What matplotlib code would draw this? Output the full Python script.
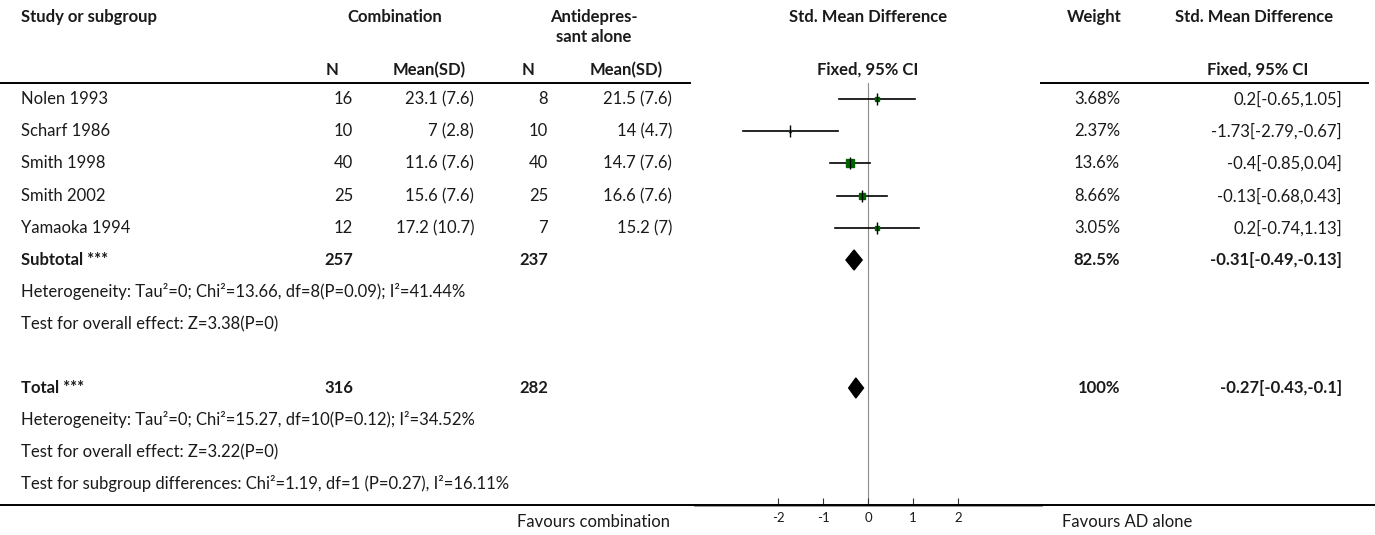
import matplotlib.pyplot as plt
from matplotlib.lines import Line2D

# data
studies   = ["Nolen 1993", "Scharf 1986", "Smith 1998", "Smith 2002", "Yamaoka 1994"]
n_comb    = [16, 10, 40, 25, 12]
mean_comb = [23.1, 7, 11.6, 15.6, 17.2]
sd_comb   = [7.6, 2.8, 7.6, 7.6, 10.7]
n_ad      = [8, 10, 40, 25, 7]
mean_ad   = [21.5, 14, 14.7, 16.6, 15.2]
sd_ad     = [7.6, 4.7, 7.6, 7.6, 7]
weights   = [3.68, 2.37, 13.6, 8.66, 3.05]
smd       = [0.2, -1.73, -0.4, -0.13, 0.2]
ci_lo     = [-0.65, -2.79, -0.85, -0.68, -0.74]
ci_hi     = [1.05, -0.67, 0.04, 0.43, 1.13]

pooled_labels = ["Subtotal ***", "Total ***"]
pooled_n_comb = [257, 316]
pooled_n_ad   = [237, 282]
pooled_w      = [82.5, 100]
pooled_smd    = [-0.31, -0.27]
pooled_lo     = [-0.49, -0.43]
pooled_hi     = [-0.13, -0.1]

sub_notes = ["Heterogeneity: Tau²=0; Chi²=13.66, df=8(P=0.09); I²=41.44%",
             "Test for overall effect: Z=3.38(P=0)"]
tot_notes = ["Heterogeneity: Tau²=0; Chi²=15.27, df=10(P=0.12); I²=34.52%",
             "Test for overall effect: Z=3.22(P=0)",
             "Test for subgroup differences: Chi²=1.19, df=1 (P=0.27), I²=16.11%"]

ticks = [-2, -1, 0, 1, 2]

# layout (pixels)
W, H = 1375, 535
plt.rcParams['font.family'] = ['Lato', 'DejaVu Sans']
FS = 12
TXT = "#1a1a1a"

fig = plt.figure(figsize=(W / 100, H / 100), dpi=100)

def fx(x):
    return x / W

def fy(y):
    return 1 - y / H

def put(x, y, s, ha="left", bold=False, size=FS):
    fig.text(fx(x), fy(y), s, ha=ha, va="center", fontsize=size,
             fontweight="bold" if bold else "normal", color=TXT)

# column anchors
X_STUDY = 21
X_N1, X_N1H = 353, 332
X_M1, X_M1H = 474, 429
X_N2, X_N2H = 548, 528
X_M2, X_M2H = 672, 626
X_W, X_WH = 1120, 1094
X_CI, X_CIH = 1342, 1254
AX_L, AX_R = 695, 1041
X_ZERO = (AX_L + AX_R) / 2
Y_TOP, Y_BOT = 83, 505

# headers
put(X_STUDY, 17, "Study or subgroup", bold=True)
put(395, 17, "Combination", ha="center", bold=True)
put(594, 17, "Antidepres-", ha="center", bold=True)
put(594, 37, "sant alone", ha="center", bold=True)
put(X_ZERO, 17, "Std. Mean Difference", ha="center", bold=True)
put(X_WH, 17, "Weight", ha="center", bold=True)
put(X_CIH, 17, "Std. Mean Difference", ha="center", bold=True)
put(X_N1H, 70, "N", ha="center", bold=True)
put(X_M1H, 70, "Mean(SD)", ha="center", bold=True)
put(X_N2H, 70, "N", ha="center", bold=True)
put(X_M2H, 70, "Mean(SD)", ha="center", bold=True)
put(X_ZERO, 70, "Fixed, 95% CI", ha="center", bold=True)
put(1308, 70, "Fixed, 95% CI", ha="right", bold=True)

# horizontal rules
for x0, x1 in [(0, 690), (AX_R, 1368)]:
    fig.add_artist(Line2D([fx(x0), fx(x1)], [fy(Y_TOP), fy(Y_TOP)],
                          color="black", lw=1.4))
fig.add_artist(Line2D([0, 1], [fy(Y_BOT), fy(Y_BOT)], color="black", lw=1.4))

# forest axes, y in pixel rows
ax = fig.add_axes([fx(AX_L), fy(Y_BOT), fx(AX_R) - fx(AX_L), (Y_BOT - Y_TOP) / H])
ax.set_xlim(-3.85, 3.85)
ax.set_ylim(Y_BOT, Y_TOP)
ax.patch.set_alpha(0)
for side in ["top", "left", "right"]:
    ax.spines[side].set_visible(False)
ax.spines["bottom"].set_color("#8c8c8c")
ax.spines["bottom"].set_linewidth(2)
ax.set_yticks([])
ax.set_xticks(ticks)
ax.set_xticklabels([str(t) for t in ticks])
ax.tick_params(axis="x", direction="in", length=5, width=0.8, color="#333333",
               labelsize=9.5, pad=5, labelcolor=TXT)
ax.axvline(0, color="#8c8c8c", lw=0.8, zorder=1)

# study rows
row_y = [99, 131, 163, 196, 228]
for i, y in enumerate(row_y):
    put(X_STUDY, y, studies[i])
    put(X_N1, y, str(n_comb[i]), ha="right")
    put(X_M1, y, f"{mean_comb[i]:g} ({sd_comb[i]:g})", ha="right")
    put(X_N2, y, str(n_ad[i]), ha="right")
    put(X_M2, y, f"{mean_ad[i]:g} ({sd_ad[i]:g})", ha="right")
    put(X_W, y, f"{weights[i]:g}%", ha="right")
    put(X_CI, y, f"{smd[i]:g}[{ci_lo[i]:g},{ci_hi[i]:g}]", ha="right")
    ax.plot([ci_lo[i], ci_hi[i]], [y, y], color="black", lw=1.2, zorder=2)
    ax.plot(smd[i], y, marker="s", ms=weights[i] ** 0.5 * 1.4, color="#006400",
            mec="#006400", zorder=3)
    ax.plot(smd[i], y, marker="|", ms=8, mew=1, color="black", zorder=4)

# pooled rows
pooled_y = [260, 388]
for j, y in enumerate(pooled_y):
    put(X_STUDY, y, pooled_labels[j], bold=True)
    put(X_N1, y, str(pooled_n_comb[j]), ha="right", bold=True)
    put(X_N2, y, str(pooled_n_ad[j]), ha="right", bold=True)
    put(X_W, y, f"{pooled_w[j]:g}%", ha="right", bold=True)
    put(X_CI, y, f"{pooled_smd[j]:g}[{pooled_lo[j]:g},{pooled_hi[j]:g}]",
        ha="right", bold=True)
    ax.fill([pooled_lo[j], pooled_smd[j], pooled_hi[j], pooled_smd[j]],
            [y, y - 10, y, y + 10], color="black", zorder=3)

for k, s in enumerate(sub_notes):
    put(X_STUDY, 292 + 32 * k, s)
for k, s in enumerate(tot_notes):
    put(X_STUDY, 420 + 32 * k, s)

put(670, 522, "Favours combination", ha="right")
put(1062, 522, "Favours AD alone")

fig.savefig("out.png", dpi=100)
